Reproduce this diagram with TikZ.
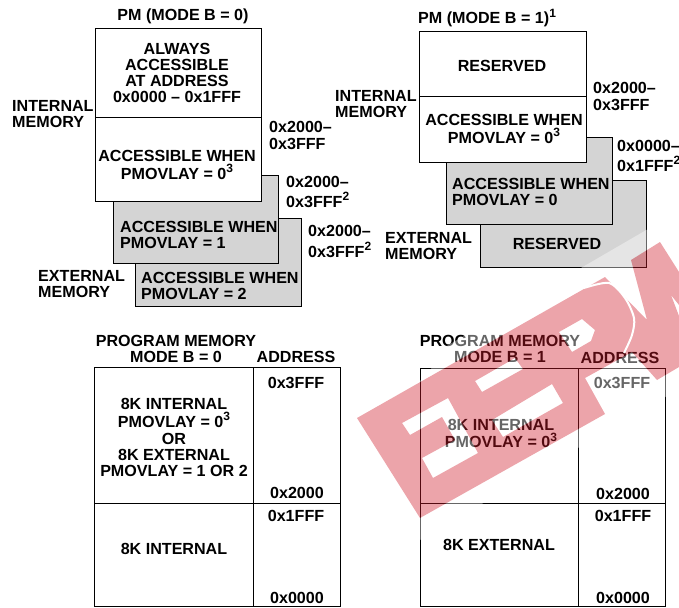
\documentclass[tikz,border=0pt]{standalone}
\usepackage{fontspec}
\setmainfont{Liberation Sans}
\newcommand{\supnum}[1]{\raisebox{0.42em}{\fontsize{12}{12}\selectfont #1}}
\newcommand{\wmshape}{(357,418) -- (605,277) -- (647,320) -- (631,260) -- (660,242) -- (679,272) -- (679,305) -- (671,295) -- (679,316) -- (679,367) -- (657,380) -- (632,352) -- (585,378) -- (605,414) -- (420,518) -- cycle}
\newcommand{\wmholes}{(402,423) -- (448,398) -- (478,453) -- (433,478) -- (422,458) -- (455,440) -- (442,417) -- (410,435) -- cycle
    (475,381) -- (515,358) -- (523,369) -- (482,392) -- cycle
    (552,384) -- (563,403) -- (503,437) -- (492,420) -- cycle
    (559,332) -- (582,319) -- (595,330) -- (591,341) -- (572,352) -- cycle}
\tikzset{
    lbl/.style={inner sep=0pt,font=\fontsize{16.1}{16}\selectfont\bfseries,align=center},
    lblleft/.style={lbl,anchor=west,align=left},
    whitebox/.style={draw=black,line width=1pt,fill=white},
    greybox/.style={draw=black,line width=1pt,fill=black!17},
    tableline/.style={draw=black,line width=1pt},
}
\begin{document}
\begin{tikzpicture}[x=1pt,y=-1pt]
    \useasboundingbox (0,0) rectangle (679,607);
    % upper left
    \draw[greybox] (135,218) rectangle (301,306);
    \draw[greybox] (113,175) rectangle (278,263);
    \draw[whitebox] (95,29) rectangle (261,201);
    \draw[tableline] (95,117) -- (261,117);
    \node[lbl] (titleA) at (183,16.5) {PM (MODE B = 0)};
    \node[lbl] (alwaysA) at (177,72.5) {ALWAYS\\ACCESSIBLE\\AT ADDRESS\\0x0000 – 0x1FFF};
    \node[lbl] (whenA) at (177,165) {ACCESSIBLE WHEN\\[2pt]PMOVLAY = 0\supnum{3}};
    \node[lblleft] (whenB) at (120,234.5) {ACCESSIBLE WHEN\\PMOVLAY = 1};
    \node[lblleft] (whenC) at (141,285.5) {ACCESSIBLE WHEN\\PMOVLAY = 2};
    \node[lblleft] (intA) at (12,114.5) {INTERNAL\\MEMORY};
    \node[lblleft] (extA) at (38,284.5) {EXTERNAL\\MEMORY};
    \node[lblleft] (addrA) at (269,135.5) {0x2000–\\[1pt]0x3FFF};
    \node[lblleft] (addrB) at (286,192) {0x2000–\\[4pt]0x3FFF\supnum{2}};
    \node[lblleft] (addrC) at (308,241.5) {0x2000–\\[5pt]0x3FFF\supnum{2}};
    % upper right
    \draw[greybox] (480,180) rectangle (646,267);
    \draw[greybox] (446,137) rectangle (612,224);
    \draw[whitebox] (419,32) rectangle (586,162);
    \draw[tableline] (419,97) -- (586,97);
    \node[lblleft] (titleB) at (418,18) {PM (MODE B = 1)\supnum{1}};
    \node[lbl] (resA) at (502,65.5) {RESERVED};
    \node[lbl] (whenD) at (504,128.5) {ACCESSIBLE WHEN\\[2pt]PMOVLAY = 0\supnum{3}};
    \node[lblleft] (whenE) at (452,191.5) {ACCESSIBLE WHEN\\PMOVLAY = 0};
    \node[lbl] (resB) at (557,244) {RESERVED};
    \node[lblleft] (intB) at (335,104.5) {INTERNAL\\MEMORY};
    \node[lblleft] (extB) at (385,246) {EXTERNAL\\MEMORY};
    \node[lblleft] (addrD) at (593,96) {0x2000–\\[1pt]0x3FFF};
    \node[lblleft] (addrE) at (617,155.5) {0x0000–\\[4pt]0x1FFF\supnum{2}};
    % lower left
    \draw[tableline] (94,367) rectangle (340,606.5);
    \draw[tableline] (94,503) -- (340,503);
    \draw[tableline] (253,367) -- (253,606.5);
    \node[lbl] (progA) at (176,349) {PROGRAM MEMORY\\MODE B = 0};
    \node[lbl] (headA) at (296,357) {ADDRESS};
    \node[lbl] (topA) at (296,383) {0x3FFF};
    \node[lbl] (midA) at (297,493) {0x2000};
    \node[lbl] (lowA) at (296,516) {0x1FFF};
    \node[lbl] (endA) at (297,598) {0x0000};
    \node[lbl] (cellA) at (174,437.5) {8K INTERNAL\\[1.5pt]PMOVLAY = 0\supnum{3}\\[1pt]OR\\8K EXTERNAL\\PMOVLAY = 1 OR 2};
    \node[lbl] (cellB) at (174,549) {8K INTERNAL};
    % lower right
    \draw[tableline] (420,368) rectangle (665,606.5);
    \draw[tableline] (420,503) -- (665,503);
    \draw[tableline] (578,368) -- (578,606.5);
    \node[lbl] (progB) at (500,349) {PROGRAM MEMORY\\MODE B = 1};
    \node[lbl] (headB) at (620,358) {ADDRESS};
    \node[lbl] (topB) at (622,383) {0x3FFF};
    \node[lbl] (midB) at (623,494) {0x2000};
    \node[lbl] (lowB) at (623,516) {0x1FFF};
    \node[lbl] (endB) at (623,598) {0x0000};
    \node[lbl] (cellC) at (501,433.5) {8K INTERNAL\\[1.5pt]PMOVLAY = 0\supnum{3}};
    \node[lbl] (cellD) at (499,545) {8K EXTERNAL};
    % watermark
    \fill[white,opacity=0.4,even odd rule] (445,347) -- (679,211) -- (679,389) -- (420,540) -- (352,418) -- (425,378) -- cycle \wmshape \wmholes;
    \fill[color={rgb,255:red,207;green,27;blue,42},opacity=0.4,even odd rule] \wmshape \wmholes;
    \draw[white,line width=2pt] plot[smooth] coordinates {(584,288) (609,283) (625,298) (634,318) (632,335) (624,353)};
\end{tikzpicture}
\end{document}
